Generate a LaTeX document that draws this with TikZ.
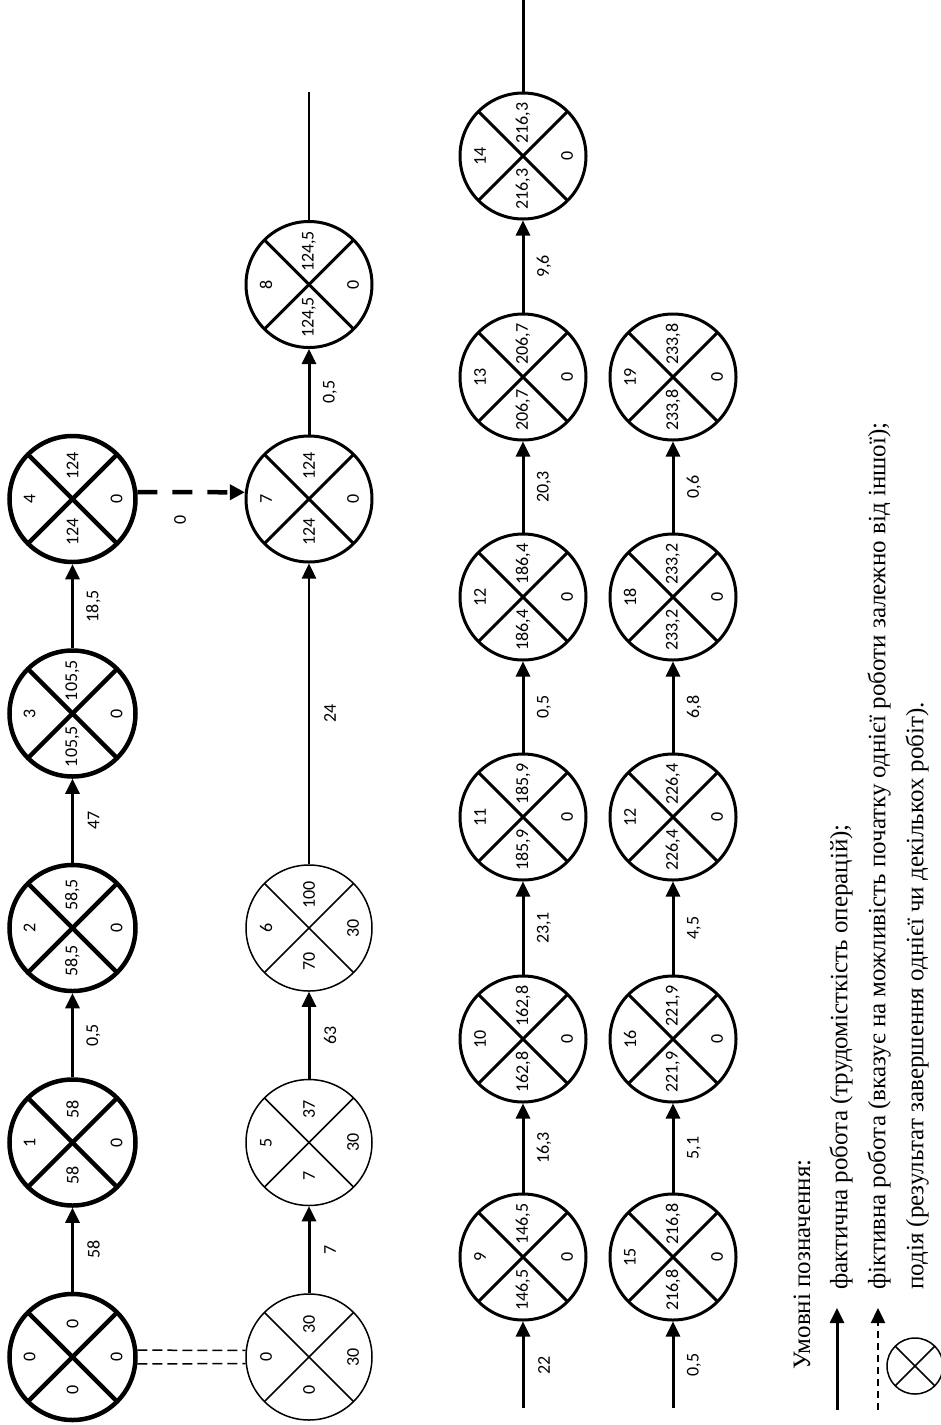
\documentclass[tikz,border=0pt]{standalone}
\usepackage{fontspec}
\setmainfont{Liberation Serif}
\newfontfamily\numfont{Carlito}
\usetikzlibrary{arrows.meta,calc}

\tikzset{
  ev/.style={circle, draw, inner sep=0pt, minimum size=126pt},
  wthick/.style={line width=4.5pt},
  wmed/.style={line width=3pt},
  wthin/.style={line width=1.5pt},
  num/.style={rotate=90, font=\numfont\fontsize{18}{20}\selectfont, inner sep=0pt},
  tip/.style={-{Triangle[length=15pt,width=14pt]}},
  arr/.style={line width=3pt, tip},
  arrthin/.style={line width=2.5pt, tip},
  plainline/.style={line width=3pt},
  thinline/.style={line width=1.5pt},
  fict/.style={line width=4.5pt, dash pattern=on 20pt off 15pt, -{Triangle[length=15pt,width=15pt]}},
  dbl/.style={line width=1.5pt, dash pattern=on 10pt off 5pt},
  legdash/.style={line width=2.5pt, dash pattern=on 7pt off 5pt, tip},
  legtext/.style={rotate=90, font=\fontsize{25}{28}\selectfont, inner sep=0pt, anchor=west},
}

% name, x, y, number, early, late, reserve, width style
\newcommand\eventnode[8]{%
  \node[ev,#8] (#1) at (#2,#3) {};
  \draw[#8] ($(#1)+(45:63)$) -- ($(#1)+(225:63)$);
  \draw[#8] ($(#1)+(135:63)$) -- ($(#1)+(315:63)$);
  \node[num] (#1-n) at ({#2-43},#3) {#4};
  \node[num] (#1-e) at (#2,{#3+33}) {#5};
  \node[num] (#1-l) at (#2,{#3-33}) {#6};
  \node[num] (#1-r) at ({#2+44},#3) {#7};
}

\begin{document}
\begin{tikzpicture}[x=1pt,y=-1pt]
\useasboundingbox (0,0) rectangle (941,1425);

% row 1
\eventnode{n0}{72.5}{1357}{0}{0}{0}{0}{wthick}
\eventnode{n1}{72.5}{1142.5}{1}{58}{58}{0}{wthick}
\eventnode{n2}{72.5}{928}{2}{58,5}{58,5}{0}{wthick}
\eventnode{n3}{72.5}{713.5}{3}{105,5}{105,5}{0}{wthick}
\eventnode{n4}{72.5}{499}{4}{124}{124}{0}{wthick}

% row 2
\eventnode{m0}{309}{1357}{0}{0}{30}{30}{wthin}
\eventnode{n5}{309}{1142.5}{5}{7}{37}{30}{wthin}
\eventnode{n6}{309}{928}{6}{70}{100}{30}{wthin}
\eventnode{n7}{309}{499}{7}{124}{124}{0}{wmed}
\eventnode{n8}{309}{284.5}{8}{124,5}{124,5}{0}{wmed}

% row 3
\eventnode{n9}{523}{1257}{9}{146,5}{146,5}{0}{wmed}
\eventnode{n10}{523}{1039}{10}{162,8}{162,8}{0}{wmed}
\eventnode{n11}{523}{817}{11}{185,9}{185,9}{0}{wmed}
\eventnode{n12}{523}{597}{12}{186,4}{186,4}{0}{wmed}
\eventnode{n13}{523}{377}{13}{206,7}{206,7}{0}{wmed}
\eventnode{n14}{523}{156}{14}{216,3}{216,3}{0}{wmed}

% row 4
\eventnode{n15}{673}{1257}{15}{216,8}{216,8}{0}{wmed}
\eventnode{n16}{673}{1039}{16}{221,9}{221,9}{0}{wmed}
\eventnode{n17}{673}{817}{12}{226,4}{226,4}{0}{wmed}
\eventnode{n18}{673}{597}{18}{233,2}{233,2}{0}{wmed}
\eventnode{n19}{673}{377}{19}{233,8}{233,8}{0}{wmed}

% free ends
\coordinate (s9) at (523,1408);
\coordinate (s15) at (673,1408);
\coordinate (e8) at (309,92);
\coordinate (e14) at (523,0);

% connectors row 1
\draw[arr] (n0) -- (n1);
\draw[arr] (n1) -- (n2);
\draw[arr] (n2) -- (n3);
\draw[arr] (n3) -- (n4);
% row 2
\draw[arr] (m0) -- (n5);
\draw[arr] (n5) -- (n6);
\draw[arrthin] (n6) -- (n7);
\draw[arr] (n7) -- (n8);
\draw[thinline] (n8) -- (e8);
% row 3
\draw[arr] (s9) -- (n9);
\draw[arr] (n9) -- (n10);
\draw[arr] (n10) -- (n11);
\draw[arr] (n11) -- (n12);
\draw[arr] (n12) -- (n13);
\draw[arr] (n13) -- (n14);
\draw[plainline] (n14) -- (e14);
% row 4
\draw[arr] (s15) -- (n15);
\draw[arr] (n15) -- (n16);
\draw[arr] (n16) -- (n17);
\draw[arr] (n17) -- (n18);
\draw[arr] (n18) -- (n19);

% dummy links
\draw[dbl] (n0.6) -- (m0.174);
\draw[dbl] (n0.-6) -- (m0.-174);
\draw[fict] (n4.6) -- (n7.174);

% connector labels
\node[num] (l1) at ($(n0)!0.5!(n1)+(21,0)$) {58};
\node[num] (l2) at ($(n1)!0.5!(n2)+(21,0)$) {0,5};
\node[num] (l3) at ($(n2)!0.5!(n3)+(21,0)$) {47};
\node[num] (l4) at ($(n3)!0.5!(n4)+(21,0)$) {18,5};
\node[num] (l5) at ($(m0)!0.5!(n5)+(21,0)$) {7};
\node[num] (l6) at ($(n5)!0.5!(n6)+(21,0)$) {63};
\node[num] (l7) at ($(n6)!0.5!(n7)+(21,0)$) {24};
\node[num] (l8) at ($(n7)!0.5!(n8)+(21,0)$) {0,5};
\node[num] (l9) at (544,1365) {22};
\node[num] (l10) at ($(n9)!0.5!(n10)+(21,0)$) {16,3};
\node[num] (l11) at ($(n10)!0.5!(n11)+(21,0)$) {23,1};
\node[num] (l12) at ($(n11)!0.5!(n12)+(21,0)$) {0,5};
\node[num] (l13) at ($(n12)!0.5!(n13)+(21,0)$) {20,3};
\node[num] (l14) at ($(n13)!0.5!(n14)+(21,0)$) {9,6};
\node[num] (l15) at (694,1365) {0,5};
\node[num] (l16) at ($(n15)!0.5!(n16)+(21,0)$) {5,1};
\node[num] (l17) at ($(n16)!0.5!(n17)+(21,0)$) {4,5};
\node[num] (l18) at ($(n17)!0.5!(n18)+(21,0)$) {6,8};
\node[num] (l19) at ($(n18)!0.5!(n19)+(21,0)$) {0,6};
\node[num] (l0) at (180,520) {0};

% legend
\node[legtext] (lg0) at (802,1370) {Умовні позначення:};
\coordinate (la1) at (837,1410);
\coordinate (lb1) at (837,1308);
\draw[arr] (la1) -- (lb1);
\node[legtext] (lg1) at (841,1290) {фактична робота (трудомісткість операцій);};
\coordinate (la2) at (878,1410);
\coordinate (lb2) at (878,1308);
\draw[legdash] (la2) -- (lb2);
\node[legtext] (lg2) at (879,1290) {фіктивна робота (вказує на можливість початку однієї роботи залежно від іншої);};
\node[circle, draw, inner sep=0pt, minimum size=56pt, wthin] (lgc) at (915,1366) {};
\draw[wthin] ($(lgc)+(45:28)$) -- ($(lgc)+(225:28)$);
\draw[wthin] ($(lgc)+(135:28)$) -- ($(lgc)+(315:28)$);
\node[legtext] (lg3) at (917,1290) {подія (результат завершення однієї чи декількох робіт).};
\end{tikzpicture}
\end{document}
